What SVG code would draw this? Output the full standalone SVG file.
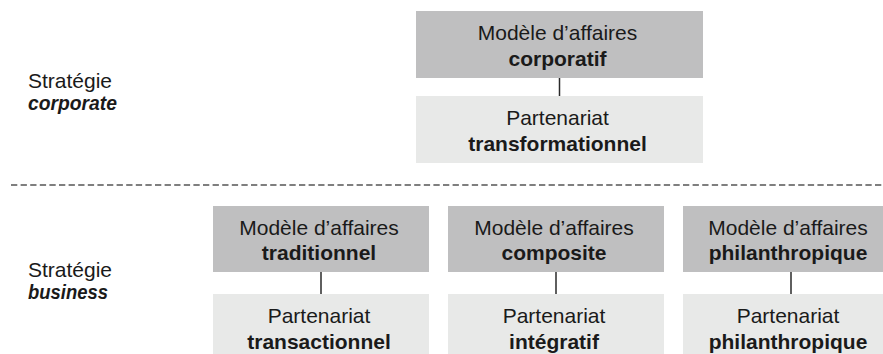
<svg xmlns="http://www.w3.org/2000/svg" width="883" height="354" viewBox="0 0 883 354">
<style>
text{font-family:"Liberation Sans",Arial,sans-serif;font-size:21px;fill:#1a1a1a}
.b{font-weight:bold}
.bi{font-weight:bold;font-style:italic}
.c{text-anchor:middle}
.m{fill:#bfbfc0}
.p{fill:#e8e9e8}
.con line{stroke:#2a2a2a;stroke-width:1.5}
</style>
<rect width="883" height="354" fill="#ffffff"/>
<g id="label-corporate">
<text x="28" y="88">Stratégie</text>
<text x="28" y="110" class="bi" textLength="89" lengthAdjust="spacingAndGlyphs">corporate</text>
</g>
<g id="label-business">
<text x="28" y="277">Stratégie</text>
<text x="28" y="299" class="bi" textLength="80" lengthAdjust="spacingAndGlyphs">business</text>
</g>
<line id="separator" x1="11" y1="185" x2="883" y2="185" stroke="#555" stroke-width="1.5" stroke-dasharray="6.3 3.3"/>
<g class="con" id="connectors">
<line x1="559.5" y1="78" x2="559.5" y2="96"/>
<line x1="321" y1="272" x2="321" y2="294"/>
<line x1="556" y1="272" x2="556" y2="294"/>
<line x1="791" y1="272" x2="791" y2="294"/>
</g>
<g id="mod-corporatif">
<rect class="m" x="416" y="11" width="287" height="67"/>
<text x="557.5" y="39.5" class="c">Modèle d’affaires</text>
<text x="557.5" y="65.5" class="c b">corporatif</text>
</g>
<g id="part-transformationnel">
<rect class="p" x="416" y="96" width="287" height="67"/>
<text x="557.5" y="124.5" class="c">Partenariat</text>
<text x="557.5" y="150.5" class="c b">transformationnel</text>
</g>
<g id="mod-traditionnel">
<rect class="m" x="213" y="206" width="216" height="66"/>
<text x="319" y="234.5" class="c">Modèle d’affaires</text>
<text x="319" y="260" class="c b">traditionnel</text>
</g>
<g id="part-transactionnel">
<rect class="p" x="213" y="294" width="216" height="66"/>
<text x="319" y="322.5" class="c">Partenariat</text>
<text x="319" y="348.5" class="c b">transactionnel</text>
</g>
<g id="mod-composite">
<rect class="m" x="448" y="206" width="216" height="66"/>
<text x="554" y="234.5" class="c">Modèle d’affaires</text>
<text x="554" y="260" class="c b">composite</text>
</g>
<g id="part-integratif">
<rect class="p" x="448" y="294" width="216" height="66"/>
<text x="554" y="322.5" class="c">Partenariat</text>
<text x="554" y="348.5" class="c b">intégratif</text>
</g>
<g id="mod-philanthropique">
<rect class="m" x="683" y="206" width="216" height="66"/>
<text x="788" y="234.5" class="c">Modèle d’affaires</text>
<text x="788" y="260" class="c b">philanthropique</text>
</g>
<g id="part-philanthropique">
<rect class="p" x="683" y="294" width="216" height="66"/>
<text x="788" y="322.5" class="c">Partenariat</text>
<text x="788" y="348.5" class="c b">philanthropique</text>
</g>
</svg>
